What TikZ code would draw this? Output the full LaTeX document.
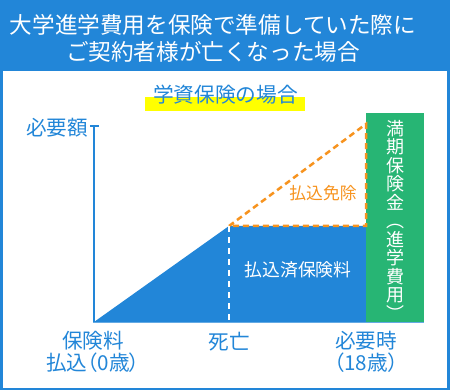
\documentclass[tikz,border=0pt]{standalone}
\usepackage{fontspec}
\setmainfont{Noto Sans CJK JP}
\newfontfamily\jpp[RawFeature=+palt]{Noto Sans CJK JP}
\definecolor{hdrblue}{HTML}{2286D8}
\definecolor{txtblue}{HTML}{2286D8}
\definecolor{fillblue}{HTML}{2286D8}
\definecolor{barGreen}{HTML}{27B574}
\definecolor{dashOrange}{HTML}{F7931E}
\definecolor{hiYellow}{HTML}{FFFF00}
\begin{document}
\begin{tikzpicture}[x=1pt,y=-1pt,
  every node/.style={inner sep=0pt,outer sep=0pt},
  titletext/.style={text=white,font=\fontsize{22.6}{27}\selectfont},
  subtext/.style={text=txtblue,font=\fontsize{20.7}{24}\selectfont},
  axistext/.style={text=txtblue,font=\jpp\fontsize{20.6}{21.5}\selectfont,align=center},
  axisline/.style={draw=txtblue,line width=2pt},
  orangedash/.style={draw=dashOrange,line width=2.5pt,dash pattern=on 6pt off 4pt},
  whitedash/.style={draw=white,line width=2pt,dash pattern=on 6pt off 5pt},
  vtext/.style={text=white,font=\fontsize{18}{18.5}\selectfont,align=center}]
\useasboundingbox (0,0) rectangle (450,390);
\fill[hdrblue] (0,0) rectangle (450,390);
\fill[white] (3,71) rectangle (447,387.5);
\node[titletext] (t1) at (213,25) {大学進学費用を保険で準備していた際に};
\node[titletext] (t2) at (213,52) {ご契約者様が亡くなった場合};
\fill[hiYellow] (145,97) rectangle (305,111);
\node[subtext] (sub) at (225.5,95) {学資保険の場合};
% chart points
\coordinate (O) at (94,322);
\coordinate (D) at (229,226);
\coordinate (DB) at (229,322);
\coordinate (E) at (366,226);
\coordinate (EB) at (366,322);
\coordinate (T) at (366,124);
\coordinate (Ytop) at (94,126);
\coordinate (TL) at (90,126);
\coordinate (TR) at (99,126);
\coordinate (Xend) at (424,322.5);
\coordinate (Xstart) at (93,322.5);
\fill[fillblue] (O) -- (D) -- (E) -- (EB) -- cycle;
\fill[barGreen] (366,113) rectangle (424,322);
\draw[draw=txtblue!70,line width=1.2pt] (Xstart) -- (Xend);
\draw[axisline] (O) -- (Ytop);
\draw[axisline] (TL) -- (TR);
\draw[orangedash] (D) -- (T) -- (E) -- (D);
\draw[whitedash] (D) -- (DB);
\node[text=dashOrange,font=\fontsize{16.8}{18}\selectfont] (menjo) at (323,193) {払込免除};
\node[text=white,font=\fontsize{17.8}{19}\selectfont] (zumi) at (298,270) {払込済保険料};
\node[vtext] (vt) at (395.5,220) {満\\期\\保\\険\\金\\︵\\進\\学\\費\\用\\︶};
\node[axistext] (ylab) at (57,128) {必要額};
\node[axistext] (x0) at (93,352) {保険料\\払込（0歳）};
\node[axistext] (x1) at (229,342) {死亡};
\node[axistext] (x2) at (366,352) {必要時\\（18歳）};
\end{tikzpicture}
\end{document}
